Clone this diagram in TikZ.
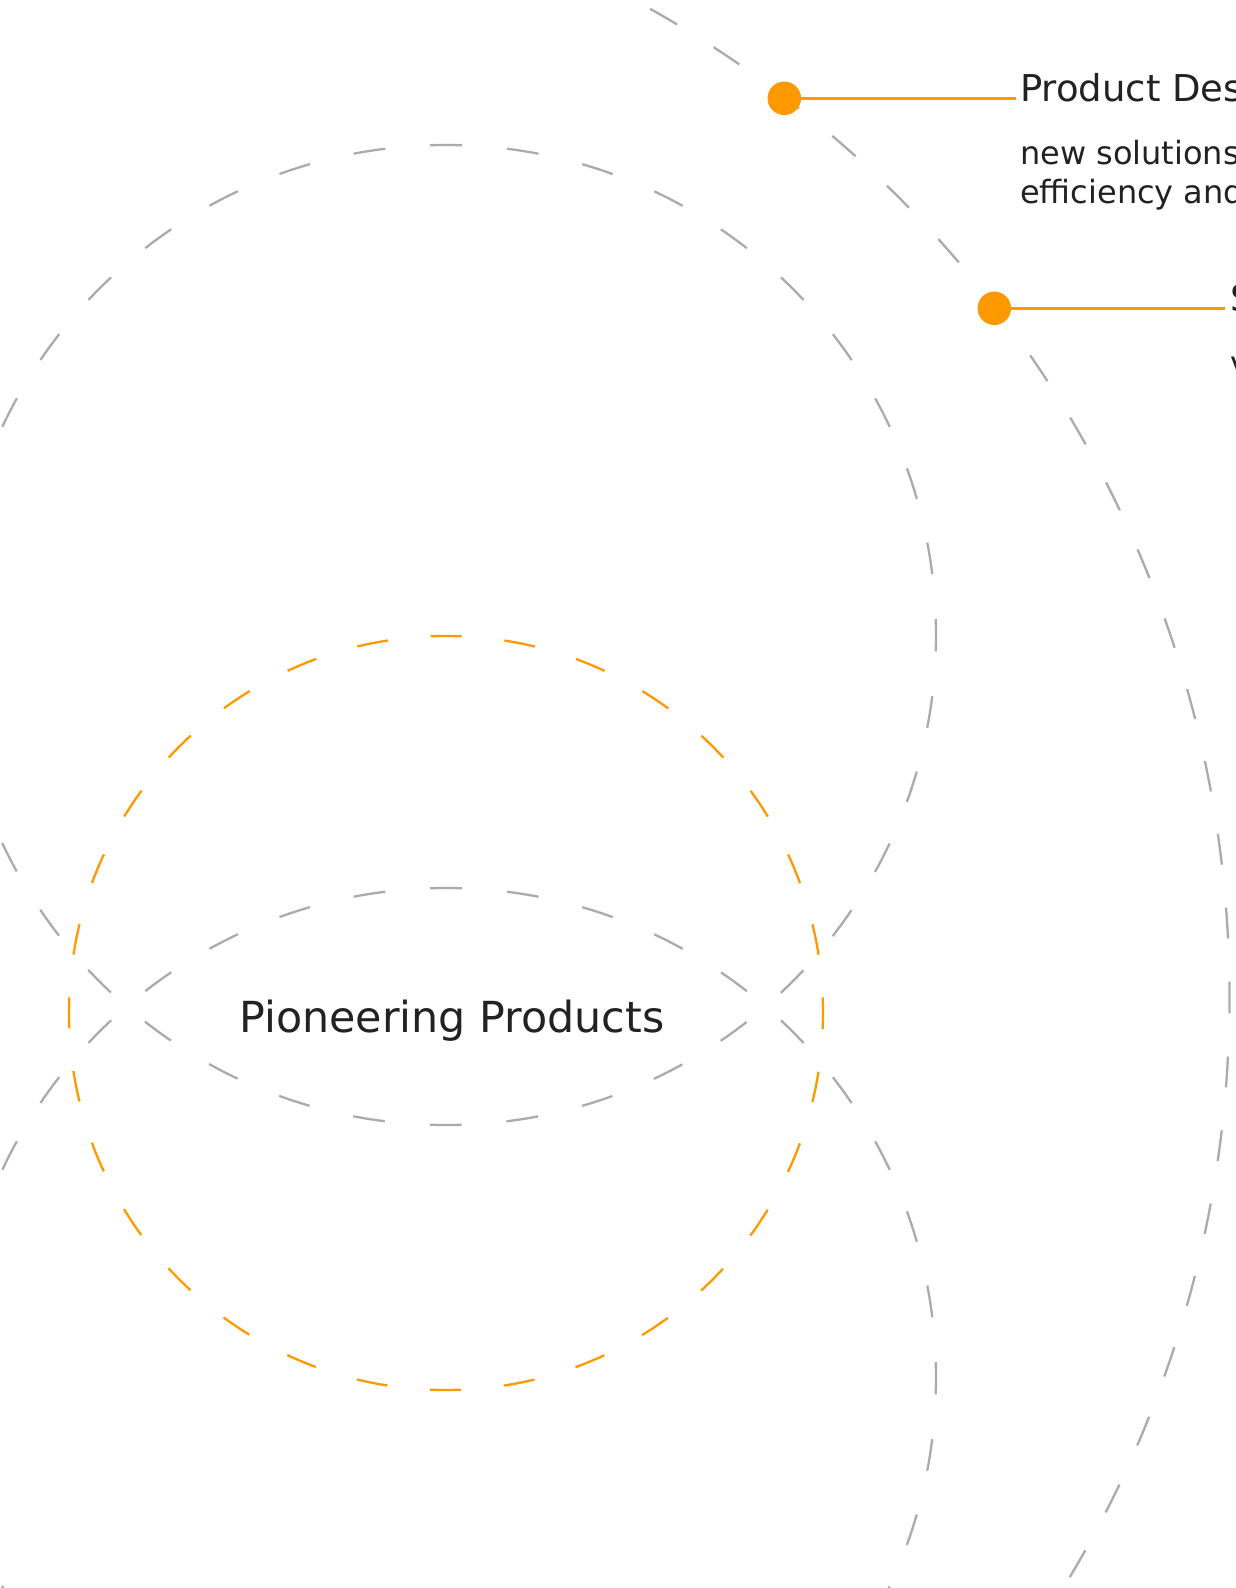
\documentclass[tikz,border=0pt]{standalone}
\usepackage{fontspec}
\setmainfont{DejaVu Sans}
\definecolor{cgray}{HTML}{ABABAB}
\definecolor{corange}{HTML}{FF9900}
\definecolor{ctext}{HTML}{222222}
\begin{document}
\begin{tikzpicture}[x=1pt,y=-1pt,
  ring/.style={draw=cgray,line width=2.3pt},
  oring/.style={draw=corange,line width=2.3pt},
  dot/.style={circle,fill=corange,draw=none,minimum size=33.5pt,inner sep=0pt},
  lead/.style={draw=corange,line width=2.4pt},
  title/.style={anchor=base west,inner sep=0pt,text=ctext,font=\fontsize{37}{45}\selectfont},
  sub/.style={anchor=base west,inner sep=0pt,text=ctext,font=\fontsize{32}{39}\selectfont},
  center/.style={anchor=base,inner sep=0pt,text=ctext,font=\fontsize{42.8}{50}\selectfont}]
\useasboundingbox (0,0) rectangle (1236,1588);
\fill[white] (0,0) rectangle (1236,1588);
\clip (0,0) rectangle (1236,1588);
% big outer circle (96 dashes)
\draw[ring, dash pattern=on 31pt off 43.09pt, dash phase=15.5pt] (97.5,997) circle[radius=1132pt];
% two gray circles (40 dashes)
\draw[ring, dash pattern=on 32pt off 44.97pt, dash phase=16pt] (446,635) circle[radius=490pt];
\draw[ring, dash pattern=on 32pt off 44.97pt, dash phase=16pt] (446,1378) circle[radius=490pt];
% orange circle (32 dashes)
\draw[oring, dash pattern=on 31pt off 43.02pt, dash phase=15.5pt] (446,1013) circle[radius=377pt];
% centre label
\node[center] (pp) at (452,1032.7) {Pioneering Products};
% item 1
\node[dot] (d1) at (784.3,98.3) {};
\coordinate (e1) at (1015.7,98.3);
\draw[lead] (d1.center) -- (e1);
\node[title] (t1) at (1020,101.7) {Product Des};
\node[sub] (s1a) at (1020,164.3) {new solutions};
\node[sub] (s1b) at (1020,203.3) {efficiency and};
% item 2
\node[dot] (d2) at (994.3,308.3) {};
\coordinate (e2) at (1225,308.3);
\draw[lead] (d2.center) -- (e2);
\node[title] (t2) at (1230,311.7) {S};
\node[sub] (s2a) at (1230,374.5) {v};
\end{tikzpicture}
\end{document}
